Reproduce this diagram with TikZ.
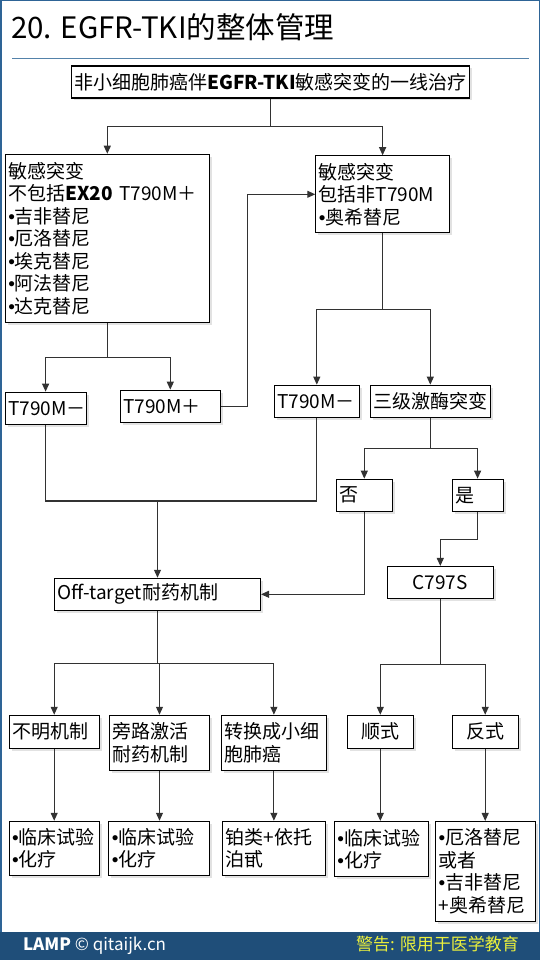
\documentclass[tikz,border=0pt]{standalone}
\usepackage{fontspec}
\setmainfont{Noto Sans CJK SC}
\newfontfamily\dotfont{Liberation Sans}
\usetikzlibrary{arrows.meta,shadows}
\definecolor{framecol}{RGB}{46,100,150}
\definecolor{rulecol}{RGB}{84,130,170}
\definecolor{footcol}{RGB}{31,78,121}
\definecolor{warncol}{RGB}{235,240,60}
\definecolor{linecol}{RGB}{50,50,50}
\newcommand\cellfont{\fontsize{19}{22.5}\selectfont}
\newcommand\bul{{\dotfont •}}

\begin{document}
\begin{tikzpicture}[x=1pt,y=-1pt]
\tikzstyle{cell}=[rectangle,draw=black,line width=1.1pt,fill=white,inner xsep=3pt,inner ysep=0pt,align=left,font=\cellfont,drop shadow={shadow xshift=2.5pt,shadow yshift=-2.5pt,fill=gray!45}]
\tikzstyle{wire}=[draw=linecol,line width=1.1pt]
\tikzstyle{link}=[wire,-{Triangle[length=8pt,width=7pt]}]
\useasboundingbox (0,0) rectangle (540,960);
\draw[framecol,line width=1.5pt] (0.75,0.75) rectangle (539.25,959.25);
\node[anchor=base west,inner sep=0pt,font=\fontsize{29.5}{33}\selectfont] (title) at (11,38.5) {20. EGFR-TKI的整体管理};
\draw[rulecol,line width=1pt] (12,59) -- (529,59);

\node [cell,text width=392pt,minimum height=32pt] (top) at (270.5,82) {\mbox{非小细胞肺癌伴\textbf{EGFR-TKI}敏感突变的一线治疗}};
\node [cell,text width=198pt,minimum height=168pt] (L1) at (107.3,238.3) {敏感突变\\不包括\textbf{EX20} T790M＋\\\bul 吉非替尼\\\bul 厄洛替尼\\\bul 埃克替尼\\\bul 阿法替尼\\\bul 达克替尼};
\node [cell,text width=127.6pt,minimum height=77pt] (R1) at (382.6,194.3) {敏感突变\\包括非T790M\\\bul 奥希替尼};
\node [cell,text width=75pt,minimum height=32pt] (Lm) at (45.6,408.2) {T790M－};
\node [cell,text width=94pt,minimum height=32pt] (Lp) at (170.3,406.2) {T790M＋};
\node [cell,text width=79pt,minimum height=32pt] (Rm) at (316.8,401.2) {T790M－};
\node [cell,inner xsep=2pt,text width=116pt,minimum height=32pt,align=center] (Rk) at (430.3,401.2) {三级激酶突变};
\node [cell,text width=50pt,minimum height=32pt] (no) at (364.3,495.2) {否};
\node [cell,text width=45pt,minimum height=32pt] (yes) at (477.6,495.2) {是};
\node [cell,text width=100pt,minimum height=32pt,align=center] (c797) at (440.3,582.5) {C797S};
\node [cell,text width=200pt,minimum height=32pt] (off) at (157.5,594.3) {Off-target耐药机制};

\node [cell,text width=84pt,minimum height=33pt] (m1) at (54.2,731.8) {不明机制};
\node [cell,text width=94pt,minimum height=55pt] (m2) at (159.5,742.8) {旁路激活\\耐药机制};
\node [cell,text width=99pt,minimum height=55pt] (m3) at (273.9,742.8) {转换成小细\\胞肺癌};
\node [cell,text width=60pt,minimum height=33pt,align=center] (m4) at (380.3,731.8) {顺式};
\node [cell,text width=60pt,minimum height=33pt,align=center] (m5) at (485.2,731.8) {反式};

\node [cell,text width=84pt,minimum height=54pt] (b1) at (54.2,848.3) {\bul 临床试验\\\bul 化疗};
\node [cell,text width=94.6pt,minimum height=54pt] (b2) at (159.1,848.3) {\bul 临床试验\\\bul 化疗};
\node [cell,text width=97pt,minimum height=54pt] (b3) at (274.3,848.3) {铂类+依托\\泊甙};
\node [cell,text width=88pt,minimum height=55pt] (b4) at (381.4,849) {\bul 临床试验\\\bul 化疗};
\node [cell,text width=93.5pt,minimum height=100pt] (b5) at (485.3,871.5) {\bul 厄洛替尼\\或者\\\bul 吉非替尼\\+奥希替尼};

\draw[link] (top.south) -- ++(0,27.7) -| (L1.north);
\draw[link] (top.south) -- ++(0,27.7) -| (R1.north);
\draw[link] (L1.south) -- ++(0,35) -| (Lm.north);
\draw[link] (L1.south) -- ++(0,35) -| (Lp.north);
\draw[link] (Lp.east) -- ++(27,0) |- (R1.west);
\draw[link] (R1.south) -- ++(0,76) -| (Rm.north);
\draw[link] (R1.south) -- ++(0,76) -| (Rk.north);
\coordinate (mid) at (157.5,501);
\draw[wire] (Lm.south) |- (mid);
\draw[wire] (Rm.south) |- (mid);
\draw[link] (mid) -- (off.north);
\draw[link] (Rk.south) -- ++(0,31) -| (no.north);
\draw[link] (Rk.south) -- ++(0,31) -| (yes.north);
\draw[link] (no.south) |- (off.east);
\draw[link] (yes.south) -- ++(0,28) -| (c797.north);
\draw[link] (off.south) -- ++(0,53) -| (m1.north);
\draw[link] (off.south) -- ++(0,53) -| (m2.north);
\draw[link] (off.south) -- ++(0,53) -| (m3.north);
\draw[link] (c797.south) -- ++(0,65) -| (m4.north);
\draw[link] (c797.south) -- ++(0,65) -| (m5.north);
\draw[link] (m1.south) -- (m1.south |- b1.north);
\draw[link] (m2.south) -- (m2.south |- b2.north);
\draw[link] (m3.south) -- (m3.south |- b3.north);
\draw[link] (m4.south) -- (m4.south |- b4.north);
\draw[link] (m5.south) -- (m5.south |- b5.north);

\fill[footcol] (0,932) rectangle (540,960);
\node[anchor=base west,inner sep=0pt,text=white,font=\fontsize{17}{19}\selectfont] (lamp) at (23,950) {\textbf{LAMP} © qitaijk.cn};
\node[anchor=base west,inner sep=0pt,text=warncol,font=\fontsize{17}{19}\selectfont] (warn) at (356,950) {警告: 限用于医学教育};
\end{tikzpicture}
\end{document}
